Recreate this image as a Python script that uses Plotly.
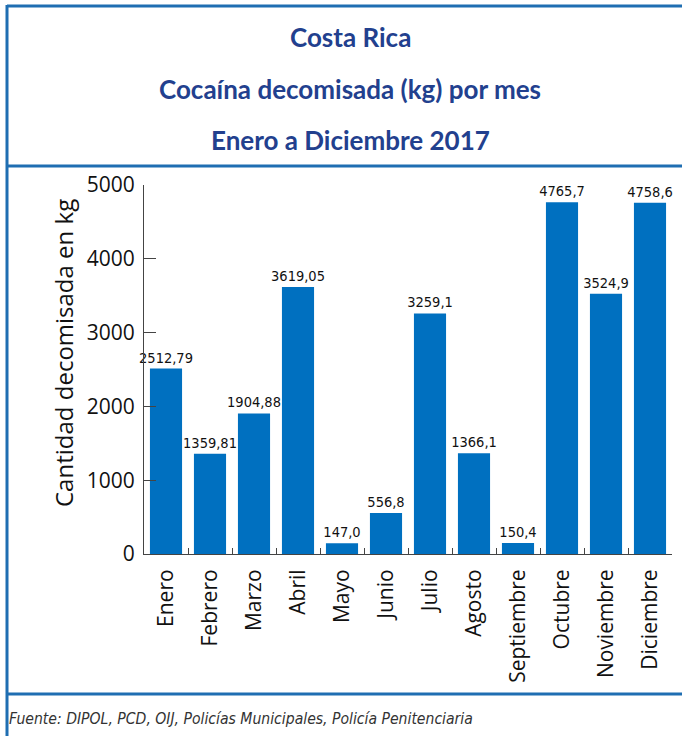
import plotly.graph_objects as go

months = ["Enero", "Febrero", "Marzo", "Abril", "Mayo", "Junio", "Julio",
          "Agosto", "Septiembre", "Octubre", "Noviembre", "Diciembre"]
values = [2512.79, 1359.81, 1904.88, 3619.05, 147.0, 556.8, 3259.1,
          1366.1, 150.4, 4765.7, 3524.9, 4758.6]
labels = ["2512,79", "1359,81", "1904,88", "3619,05", "147,0", "556,8", "3259,1",
          "1366,1", "150,4", "4765,7", "3524,9", "4758,6"]
y_ticks = [0, 1000, 2000, 3000, 4000, 5000]

W, H = 682, 736
L, R, T, B = 144, 10, 185, 182
PW, PH = W - L - R, H - T - B


def px(x):
    return (x - L) / PW


def py(y):
    return (H - B - y) / PH


BAR = "#0070C0"
LINE = "#1F6EB2"
TITLE = "#22408E"
NARROW = "DejaVu Sans Condensed"

fig = go.Figure(go.Bar(
    x=months, y=values, text=labels, textposition="outside", constraintext="none",
    textfont=dict(family=NARROW, size=14.5, color="#111"),
    marker=dict(color=BAR, line=dict(width=0)),
    cliponaxis=False, hoverinfo="skip",
))

shapes = []
for x0, y0, x1, y1 in [(7, 5, 7, 736), (7, 6, 682, 6), (7, 166, 682, 166), (7, 694, 682, 694)]:
    shapes.append(dict(type="line", xref="paper", yref="paper",
                       x0=px(x0), y0=py(y0), x1=px(x1), y1=py(y1),
                       line=dict(color=LINE, width=3)))

annotations = []
for text, yc in [("Costa Rica", 37), ("Cocaína decomisada (kg) por mes", 89), ("Enero a Diciembre 2017", 140)]:
    annotations.append(dict(text="<b>%s</b>" % text, xref="paper", yref="paper",
                            x=px(350), y=py(yc), xanchor="center", yanchor="middle",
                            showarrow=False, font=dict(family="Lato", size=26, color=TITLE)))
annotations.append(dict(text="Cantidad decomisada en kg", xref="paper", yref="paper",
                        x=px(63), y=py(353), xanchor="center", yanchor="middle", textangle=-90,
                        showarrow=False, font=dict(family="Open Sans", size=24, color="#111")))
annotations.append(dict(text="<i>Fuente: DIPOL, PCD, OIJ, Policías Municipales, Policía Penitenciaria</i>",
                        xref="paper", yref="paper", x=px(7), y=py(719), xanchor="left", yanchor="middle",
                        showarrow=False, font=dict(family=NARROW, size=15.6, color="#333")))

fig.update_layout(
    width=W, height=H, margin=dict(l=L, r=R, t=T, b=B),
    paper_bgcolor="white", plot_bgcolor="white",
    showlegend=False, bargap=0.27,
    shapes=shapes, annotations=annotations,
    xaxis=dict(showline=True, linecolor="#444", linewidth=1, ticks="inside", ticklen=6,
               tickcolor="#444", tickson="boundaries", tickangle=-90, showgrid=False,
               tickfont=dict(family="Open Sans", size=21, color="#111"), ticklabelstandoff=6),
    yaxis=dict(range=[0, 5000], tickvals=y_ticks, showline=True, linecolor="#444", linewidth=1,
               ticks="inside", ticklen=12, tickcolor="#444", showgrid=False, zeroline=False,
               tickfont=dict(family="Open Sans", size=21, color="#111"), ticklabelstandoff=4),
)

fig.write_html("out.html", config={"displayModeBar": False},
               post_script="document.body.style.margin='0';")
